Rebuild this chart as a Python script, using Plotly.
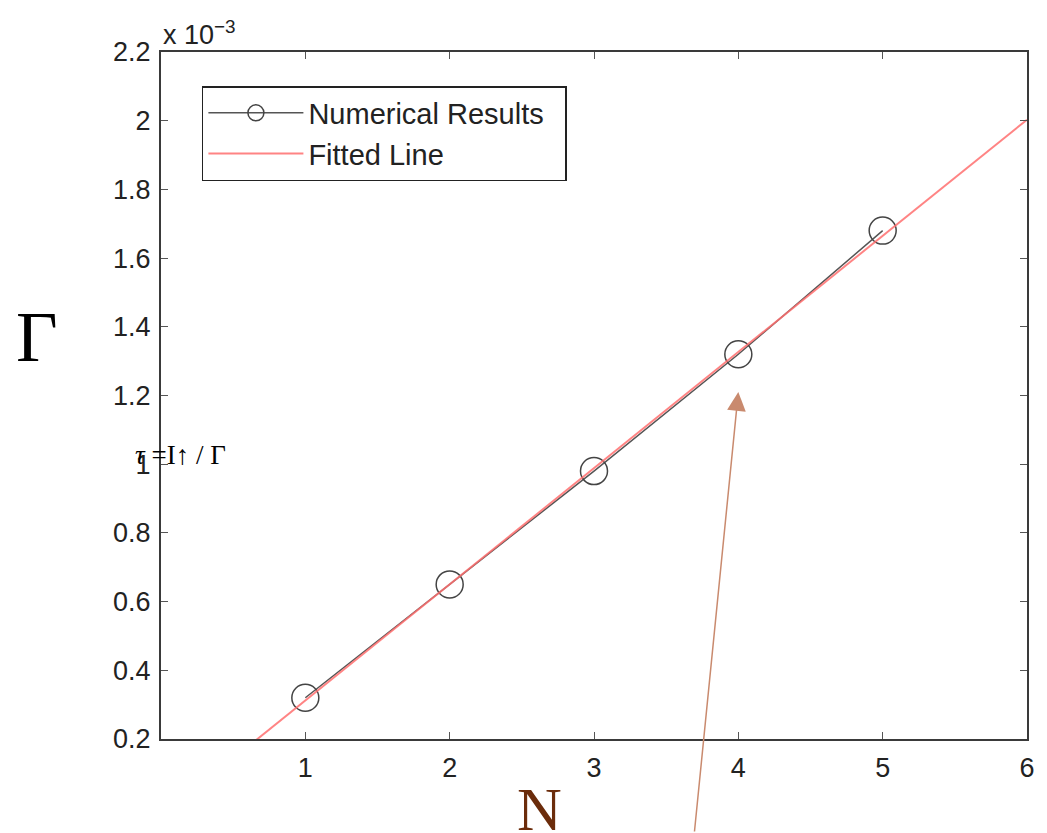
import plotly.graph_objects as go

# Data (values in units of 1e-3)
n_values = [1, 2, 3, 4, 5]
gamma_values = [0.32, 0.65, 0.98, 1.32, 1.68]
fit_x = [0, 6]
fit_y = [-0.026, 2.003]

x_tickvals = [1, 2, 3, 4, 5, 6]
y_tickvals = [0.2, 0.4, 0.6, 0.8, 1.0, 1.2, 1.4, 1.6, 1.8, 2.0, 2.2]
y_ticktext = ["0.2", "0.4", "0.6", "0.8", "1", "1.2", "1.4", "1.6", "1.8", "2", "2.2"]

W, H = 1047, 833
ml, mr, mt, mb = 161, 18, 52, 94
PW, PH = W - ml - mr, H - mt - mb


def px_x(p):
    return (p - ml) / PW


def px_y(p):
    return 1 - (p - mt) / PH


fig = go.Figure()
fig.add_trace(go.Scatter(
    x=n_values, y=gamma_values, mode="lines+markers", name="Numerical Results\u00a0\u00a0",
    line=dict(color="#555555", width=1.5),
    marker=dict(symbol="circle-open", size=27, color="#444444", line=dict(width=1.5)),
))
fig.add_trace(go.Scatter(
    x=fit_x, y=fit_y, mode="lines", name="Fitted Line",
    line=dict(color="rgba(255,110,110,0.85)", width=2),
))

axis_common = dict(
    showgrid=False, zeroline=False, showline=True, linecolor="#3a3a3a", linewidth=2,
    mirror="allticks", ticks="inside", ticklen=7, tickcolor="#555555", tickwidth=1,
    tickfont=dict(family="Liberation Sans, Arial, sans-serif", size=27, color="#222222"),
)

fig.update_layout(
    width=W, height=H,
    margin=dict(l=ml, r=mr, t=mt, b=mb, pad=0),
    paper_bgcolor="white", plot_bgcolor="white",
    xaxis=dict(range=[0, 6], tickvals=x_tickvals, ticklabelstandoff=4, **axis_common),
    yaxis=dict(range=[0.2, 2.2], tickvals=y_tickvals, ticktext=y_ticktext,
               ticklabelstandoff=3, **axis_common),
    showlegend=True,
    legend=dict(
        x=px_x(202), y=px_y(86),
        xanchor="left", yanchor="top",
        bgcolor="white", bordercolor="#222222", borderwidth=1.5,
        font=dict(family="Liberation Sans, Arial, sans-serif", size=29, color="#222222"),
        itemwidth=95, tracegroupgap=0,
    ),
)

# exponent label
fig.add_annotation(
    xref="paper", yref="paper", x=0, y=1, xanchor="left", yanchor="bottom", yshift=0,
    text="x 10<sup>−3</sup>", showarrow=False,
    font=dict(family="Liberation Sans, Arial, sans-serif", size=27, color="#222222"),
)
# Big Gamma label
fig.add_annotation(
    xref="paper", yref="paper", x=px_x(14), y=px_y(337), xanchor="left", yanchor="middle",
    text="Γ", showarrow=False,
    font=dict(family="Liberation Serif, Times New Roman, serif", size=72, color="black"),
)
# N label
fig.add_annotation(
    xref="paper", yref="paper", x=px_x(540), y=px_y(845), xanchor="center", yanchor="bottom",
    text="N", showarrow=False,
    font=dict(family="Liberation Serif, Times New Roman, serif", size=62, color="#6B2C0B"),
)
# tau formula
fig.add_annotation(
    xref="paper", yref="paper", x=px_x(133), y=px_y(455),
    xanchor="left", yanchor="middle", text="<i>τ</i> =I↑ / Γ", showarrow=False,
    font=dict(family="Liberation Serif, Times New Roman, serif", size=27, color="black"),
)
# arrow
fig.add_annotation(
    x=4.0, y=1.21, xref="x", yref="y", text="", showarrow=True,
    ax=-44, ay=450, arrowcolor="#C98A6E", arrowwidth=1.5, arrowhead=2, arrowsize=2.5,
)

fig.write_html("out.html")
